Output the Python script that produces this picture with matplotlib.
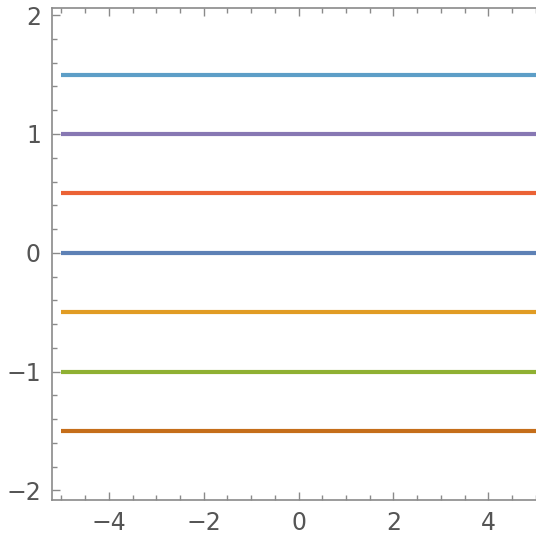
import numpy as np
import matplotlib.pyplot as plt
from matplotlib.ticker import MultipleLocator, FuncFormatter

# constant levels, in plotting order, with their colours
levels = [0, -0.5, -1, 0.5, 1, -1.5, 1.5]
colors = ["#5E81B5", "#E19C24", "#8FB032", "#EB6235", "#8778B3", "#C56E1A", "#5D9EC7"]
x_range = [-5, 5]

fig = plt.figure(figsize=(5.36, 5.35), dpi=100)
ax = fig.add_axes([52/536, 35/535, 486/536, 492/535])

xs = np.linspace(x_range[0], x_range[1], 2)
for c, col in zip(levels, colors):
    ax.plot(xs, np.full_like(xs, c, dtype=float), color=col, lw=3, solid_capstyle="butt")

ax.set_xlim(-5.2, 5.05)
ax.set_ylim(-2.08, 2.06)

frame = "#8a8a8a"
for s in ax.spines.values():
    s.set_color(frame)
    s.set_linewidth(1.2)
ax.spines["right"].set_visible(False)

ax.xaxis.set_major_locator(MultipleLocator(2))
ax.xaxis.set_minor_locator(MultipleLocator(0.5))
ax.yaxis.set_major_locator(MultipleLocator(1))
ax.yaxis.set_minor_locator(MultipleLocator(0.2))
fmt = FuncFormatter(lambda v, p: f"{v:g}".replace("-", "\u2212"))
ax.xaxis.set_major_formatter(fmt)
ax.yaxis.set_major_formatter(fmt)

ax.tick_params(which="both", direction="in", color=frame, top=True, right=False,
               labelsize=17, labelcolor="#555555", width=1)
ax.tick_params(which="major", length=6, pad=8)
ax.tick_params(which="minor", length=3.5)

fig.savefig("out.png", dpi=100)
